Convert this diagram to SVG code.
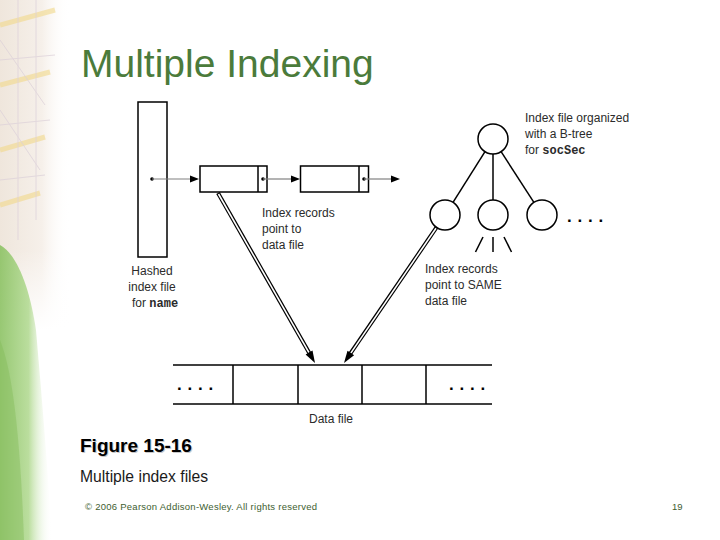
<svg xmlns="http://www.w3.org/2000/svg" width="720" height="540" viewBox="0 0 720 540">
<defs>
<linearGradient id="fadeTop" x1="0" y1="0" x2="1" y2="0">
<stop offset="0" stop-color="#efe6dc"/>
<stop offset="0.6" stop-color="#f6f0ea"/>
<stop offset="1" stop-color="#ffffff" stop-opacity="0"/>
</linearGradient>
<linearGradient id="fadeGreen" x1="0" y1="0" x2="1" y2="0">
<stop offset="0" stop-color="#8cc264"/>
<stop offset="0.55" stop-color="#b3da93"/>
<stop offset="1" stop-color="#ffffff" stop-opacity="0"/>
</linearGradient>
<linearGradient id="fadeV" x1="0" y1="0" x2="0" y2="1">
<stop offset="0" stop-color="#ffffff" stop-opacity="0"/>
<stop offset="1" stop-color="#ffffff" stop-opacity="1"/>
</linearGradient>
<style>
.t{font-family:"Liberation Sans",Arial,sans-serif;font-size:12px;fill:#2b2b2b}
.m{font-family:"Liberation Mono","Courier New",monospace;font-weight:bold}
.s{fill:none;stroke:#000;stroke-width:1.5}
.g{stroke:#808080;stroke-width:1.2}
.dots{font-family:"Liberation Sans",Arial,sans-serif;font-size:17px;font-weight:bold;letter-spacing:5.8px;fill:#000}
.dbl{stroke:#000;stroke-width:4}
.dbw{stroke:#fff;stroke-width:1.6}
</style>
</defs>
<rect width="720" height="540" fill="#fff"/>
<g id="background">
<rect x="0" y="0" width="70" height="330" fill="url(#fadeTop)"/>
<rect x="0" y="250" width="70" height="80" fill="url(#fadeV)"/>
<g stroke="#f2d98a" stroke-width="5" opacity="0.6">
<line x1="0" y1="25" x2="55" y2="10"/>
<line x1="0" y1="85" x2="50" y2="72"/>
<line x1="0" y1="150" x2="45" y2="137"/>
<line x1="0" y1="205" x2="40" y2="193"/>
</g>
<g stroke="#dcd0d9" stroke-width="1" opacity="0.7">
<line x1="0" y1="40" x2="45" y2="105"/>
<line x1="0" y1="110" x2="40" y2="170"/>
<line x1="18" y1="0" x2="18" y2="240"/>
<line x1="36" y1="0" x2="36" y2="220"/>
<line x1="0" y1="60" x2="55" y2="55"/>
<line x1="0" y1="125" x2="50" y2="120"/>
<line x1="0" y1="180" x2="45" y2="175"/>
</g>
<path d="M0,245 C18,255 30,290 36,330 C42,400 48,470 52,540 L0,540 Z" fill="url(#fadeGreen)" opacity="0.9"/>
<path d="M0,340 C12,370 20,430 24,540 L0,540 Z" fill="#86bd5c" opacity="0.45"/>
</g>
<text id="title" x="81" y="77" font-family="Liberation Sans,Arial,sans-serif" font-size="39" fill="#4b7b3b">Multiple Indexing</text>
<g id="hashed-index">
<rect class="s" x="138" y="102" width="29" height="155" fill="#fff"/>
<circle cx="152" cy="179" r="1.8"/>
<text class="t" x="152" y="275" text-anchor="middle">Hashed</text>
<text class="t" x="152" y="291" text-anchor="middle">index file</text>
<text class="t" x="132" y="307">for <tspan class="m">name</tspan></text>
</g>
<g id="record1">
<rect class="s" x="200" y="166" width="67" height="26" fill="#fff"/>
<line class="s" x1="258" y1="166" x2="258" y2="192"/>
<circle cx="263" cy="179" r="1.8"/>
</g>
<g id="record2">
<rect class="s" x="300.5" y="166" width="68" height="26" fill="#fff"/>
<line class="s" x1="359" y1="166" x2="359" y2="192"/>
<circle cx="364" cy="179" r="1.8"/>
</g>
<g id="label-records">
<text class="t" x="262" y="217">Index records</text>
<text class="t" x="262" y="233">point to</text>
<text class="t" x="262" y="249">data file</text>
</g>
<g id="btree">
<circle class="s" cx="493" cy="139" r="15" fill="#fff"/>
<circle class="s" cx="445" cy="215" r="15" fill="#fff"/>
<circle class="s" cx="493" cy="215" r="15" fill="#fff"/>
<circle class="s" cx="542" cy="215" r="15" fill="#fff"/>
<line class="s" x1="485" y1="151.7" x2="453" y2="202.3"/>
<line class="s" x1="493" y1="154" x2="493" y2="200"/>
<line class="s" x1="501.1" y1="151.6" x2="533.9" y2="202.4"/>
<line class="s" x1="483" y1="237" x2="475.5" y2="252"/>
<line class="s" x1="493" y1="237" x2="493" y2="252"/>
<line class="s" x1="504" y1="237" x2="511.5" y2="252"/>
<text class="dots" x="567" y="222">....</text>
<text class="t" x="525" y="122">Index file organized</text>
<text class="t" x="525" y="138">with a B-tree</text>
<text class="t" x="525" y="154">for <tspan class="m">socSec</tspan></text>
</g>
<g id="label-same">
<text class="t" x="425" y="273">Index records</text>
<text class="t" x="425" y="289">point to SAME</text>
<text class="t" x="425" y="305">data file</text>
</g>
<g id="datafile">
<line class="s" x1="173" y1="365" x2="492" y2="365"/>
<line class="s" x1="173" y1="404" x2="492" y2="404"/>
<line class="s" x1="233" y1="365" x2="233" y2="404"/>
<line class="s" x1="298" y1="365" x2="298" y2="404"/>
<line class="s" x1="362" y1="365" x2="362" y2="404"/>
<line class="s" x1="426" y1="365" x2="426" y2="404"/>
<text class="dots" x="177" y="390">....</text>
<text class="dots" x="449" y="390">....</text>
<text class="t" x="331" y="423" text-anchor="middle">Data file</text>
</g>
<g id="connectors">
<line class="g" x1="152" y1="179" x2="191" y2="179"/>
<polygon points="199,179 190,175.5 190,182.5"/>
<line class="g" x1="263" y1="179" x2="292" y2="179"/>
<polygon points="300,179 291,175.5 291,182.5"/>
<line class="g" x1="364" y1="179" x2="391" y2="179"/>
<polygon points="400,179 391,175.5 391,182.5"/>
<line class="dbl" x1="218" y1="193" x2="310" y2="354.3"/>
<line class="dbw" x1="218.5" y1="194" x2="309" y2="352.6"/>
<polygon points="315,363 305.6,354.6 312.5,350.6"/>
<line class="dbl" x1="436.5" y1="227.4" x2="349.6" y2="354.7"/>
<line class="dbw" x1="436" y1="228.2" x2="350.8" y2="353.1"/>
<polygon points="344,363 347.5,350.8 354.1,355.3"/>
</g>
<g id="caption">
<text x="81" y="453" font-family="Liberation Sans,Arial,sans-serif" font-size="19" font-weight="bold" fill="#c8c8c8">Figure 15-16</text>
<text x="80" y="452" font-family="Liberation Sans,Arial,sans-serif" font-size="19" font-weight="bold" fill="#000">Figure 15-16</text>
<text x="80" y="482" font-family="Liberation Sans,Arial,sans-serif" font-size="15.7" fill="#1a1a1a">Multiple index files</text>
<text x="85" y="510" font-family="Liberation Sans,Arial,sans-serif" font-size="9.5" fill="#3e5e30" textLength="232" lengthAdjust="spacing">© 2006 Pearson Addison-Wesley. All rights reserved</text>
<text x="672" y="510" font-family="Liberation Sans,Arial,sans-serif" font-size="9.5" fill="#3e5e30">19</text>
</g>
</svg>
